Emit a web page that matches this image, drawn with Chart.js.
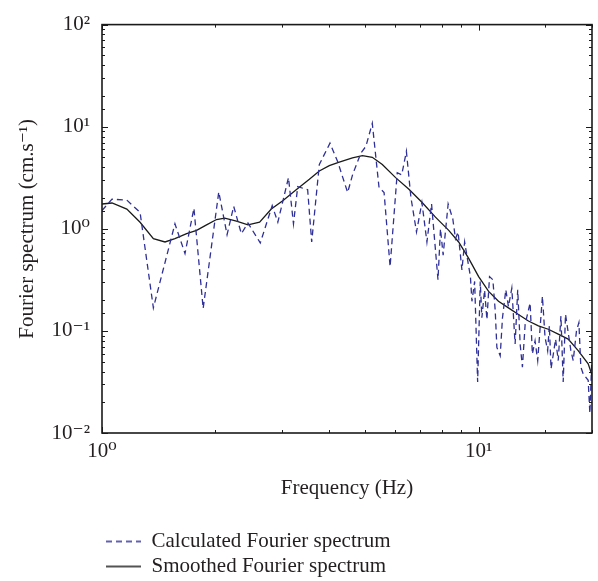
<!DOCTYPE html>
<html><head><meta charset="utf-8">
<script src="https://cdn.jsdelivr.net/npm/chart.js@4.4.1/dist/chart.umd.min.js"></script>
<style>html,body{margin:0;padding:0;background:#fff;} #wrap{width:598px;height:581px;position:relative;}</style>
</head><body><div id="wrap"><canvas id="c"></canvas></div>
<script>
const calcFreq = [1.00,1.063,1.164,1.262,1.369,1.562,1.661,1.754,1.856,2.042,2.148,2.237,2.344,2.441,2.632,2.831,2.930,3.127,3.224,3.309,3.516,3.604,3.776,4.03,4.22,4.49,4.63,4.87,5.02,5.22,5.44,5.61,5.82,6.08,6.25,6.43,6.61,6.84,7.07,7.29,7.50,7.80,7.92,8.05,8.30,8.54,8.68,8.82,9.03,9.18,9.51,9.60,9.76,9.94,10.10,10.20,10.37,10.52,10.69,10.91,11.07,11.18,11.41,11.57,11.81,12.00,12.25,12.50,12.70,12.89,13.07,13.29,13.70,13.89,14.12,14.35,14.77,15.01,15.25,15.41,15.57,16.01,16.27,16.54,16.77,17.01,17.58,17.83,18.19,18.46,18.68,18.95,19.54,19.74,19.93,20.0];
const calcAmp = [1.51,1.95,1.91,1.45,0.168,1.12,0.573,1.59,0.166,2.30,0.875,1.66,0.895,1.14,0.727,1.685,1.16,3.17,1.12,2.59,2.41,0.743,4.26,6.9,4.59,2.27,3.41,5.53,6.42,10.8,2.53,2.27,0.426,3.54,3.38,5.74,2.03,0.93,1.81,0.743,1.75,0.317,1.00,0.553,1.75,1.25,0.80,0.93,0.395,0.743,0.341,0.195,0.305,0.0316,0.305,0.1345,0.251,0.129,0.340,0.317,0.156,0.0689,0.0571,0.1345,0.253,0.173,0.262,0.0743,0.253,0.0743,0.0442,0.116,0.188,0.0594,0.080,0.0512,0.218,0.0861,0.064,0.112,0.0425,0.083,0.0512,0.140,0.0316,0.145,0.064,0.0512,0.100,0.1205,0.0442,0.038,0.0328,0.0156,0.0409,0.06];
const smoothFreq = [1.00,1.063,1.164,1.262,1.369,1.47,1.562,1.678,1.783,1.895,2.014,2.118,2.275,2.441,2.621,2.815,3.02,3.278,3.553,3.776,4.013,4.266,4.624,4.915,5.22,5.55,6.02,6.53,7.08,7.68,8.33,8.85,9.41,10.0,10.63,11.29,12.0,12.76,13.56,14.41,15.31,16.27,17.29,18.38,19.54,20.0];
const smoothAmp = [1.75,1.79,1.56,1.16,0.80,0.743,0.80,0.895,0.965,1.093,1.233,1.27,1.187,1.093,1.16,1.56,1.88,2.41,3.05,3.68,4.16,4.49,4.94,5.20,5.02,4.26,3.17,2.44,1.81,1.30,0.965,0.743,0.513,0.340,0.244,0.195,0.168,0.145,0.125,0.1118,0.1038,0.0929,0.0831,0.064,0.0476,0.037];
const xTickValues = [1, 10];
const xTickLabels = ['10\u2070', '10\u00b9'];
const yTickValues = [0.01, 0.1, 1, 10, 100];
const yTickLabels = ['10\u207b\u00b2', '10\u207b\u00b9', '10\u2070', '10\u00b9', '10\u00b2'];
const seriesNames = ['Calculated Fourier spectrum', 'Smoothed Fourier spectrum'];

const FONT = "'Liberation Serif', 'Times New Roman', 'DejaVu Serif', serif";
const TXT = '#231f20';
const BLUE = '#2f2f98';
const BLACK = '#1a1a1a';

function legendSample(color, dash, w) {
  const cv = document.createElement('canvas');
  cv.width = 35; cv.height = 4;
  const g = cv.getContext('2d');
  g.strokeStyle = color; g.lineWidth = w; g.setLineDash(dash);
  g.beginPath(); g.moveTo(0, 2); g.lineTo(35, 2); g.stroke();
  return cv;
}

const lookup = (vals, labs) => v => {
  const i = vals.findIndex(t => Math.abs(t - v) / t < 1e-6);
  return i >= 0 ? labs[i] : '';
};

const frameTicks = {
  id: 'frameTicks',
  afterDatasetsDraw(chart) {
    const {ctx, chartArea: a, scales: {x, y}} = chart;
    const isMajor = v => Math.abs(Math.log10(v) - Math.round(Math.log10(v))) < 1e-9;
    ctx.save();
    ctx.strokeStyle = BLACK;
    ctx.lineWidth = 1;
    x.ticks.forEach(t => {
      const px = Math.round(x.getPixelForValue(t.value)) + 0.5;
      const len = isMajor(t.value) ? 6 : 3;
      ctx.beginPath();
      ctx.moveTo(px, a.bottom); ctx.lineTo(px, a.bottom - len);
      ctx.moveTo(px, a.top); ctx.lineTo(px, a.top + len);
      ctx.stroke();
    });
    y.ticks.forEach(t => {
      const py = Math.round(y.getPixelForValue(t.value)) + 0.5;
      const len = isMajor(t.value) ? 6 : 3;
      ctx.beginPath();
      ctx.moveTo(a.left, py); ctx.lineTo(a.left + len, py);
      ctx.moveTo(a.right, py); ctx.lineTo(a.right - len, py);
      ctx.stroke();
    });
    ctx.lineWidth = 1.6;
    ctx.strokeRect(a.left, a.top, a.right - a.left, a.bottom - a.top);
    ctx.restore();
  }
};

new Chart(document.getElementById('c'), {
  type: 'line',
  data: {
    datasets: [
      {
        label: seriesNames[0],
        data: calcFreq.map((f, i) => ({x: f, y: calcAmp[i]})),
        borderColor: BLUE, borderWidth: 1.3, borderDash: [6, 4],
        pointRadius: 0, tension: 0, fill: false,
        pointStyle: legendSample(BLUE, [6, 4], 1.3)
      },
      {
        label: seriesNames[1],
        data: smoothFreq.map((f, i) => ({x: f, y: smoothAmp[i]})),
        borderColor: BLACK, borderWidth: 1.3,
        pointRadius: 0, tension: 0, fill: false,
        pointStyle: legendSample(BLACK, [], 1.3)
      }
    ]
  },
  options: {
    responsive: true, maintainAspectRatio: false, animation: false, events: [],
    layout: {padding: {top: 20, right: 4, bottom: -6, left: 0}},
    plugins: {
      tooltip: {enabled: false},
      legend: {
        position: 'bottom', align: 'start', fullSize: false,
        labels: {usePointStyle: true, pointStyleWidth: 35, padding: 4, color: TXT,
          font: {family: FONT, size: 21}}
      }
    },
    scales: {
      x: {
        type: 'logarithmic', min: 1, max: 20,
        grid: {display: false, drawTicks: false}, border: {display: false},
        afterFit: s => { s.height = 94; },
        ticks: {autoSkip: false, maxRotation: 0, padding: 6, color: TXT,
          font: {family: FONT, size: 21}, callback: lookup(xTickValues, xTickLabels)},
        title: {display: true, text: 'Frequency (Hz)', color: TXT,
          font: {family: FONT, size: 21}, padding: {top: 0, bottom: 26}}
      },
      y: {
        type: 'logarithmic', min: 0.01, max: 100,
        grid: {display: false, drawTicks: false}, border: {display: false},
        afterFit: s => { s.width = 102; },
        ticks: {autoSkip: false, padding: 12, color: TXT,
          font: {family: FONT, size: 21}, callback: lookup(yTickValues, yTickLabels)},
        title: {display: true, text: 'Fourier spectrum (cm.s\u207b\u00b9)', color: TXT,
          font: {family: FONT, size: 21}, padding: {top: 15, bottom: 0}}
      }
    }
  },
  plugins: [frameTicks]
});
</script>
</body></html>
